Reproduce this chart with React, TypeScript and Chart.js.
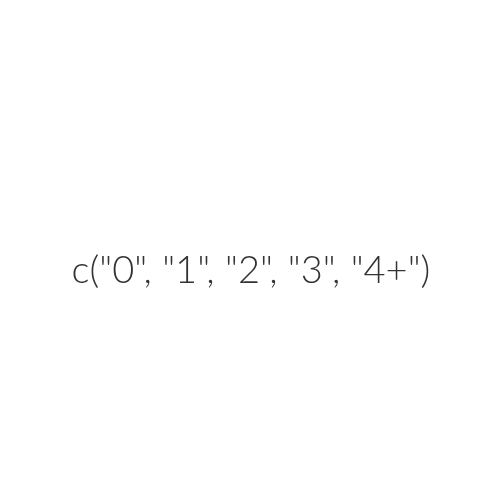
import React, { useEffect, useRef } from "react";
import { Chart, registerables } from "chart.js";

Chart.register(...registerables);

const categories = ["0", "1", "2", "3", "4+"];
const labelText = "c(" + categories.map((c) => '"' + c + '"').join(", ") + ")";

const textPlugin = {
  id: "centerText",
  afterDraw(chart: any) {
    const ctx = chart.ctx;
    ctx.save();
    ctx.font = "300 38px Lato";
    ctx.fillStyle = "#333333";
    ctx.textAlign = "center";
    ctx.textBaseline = "alphabetic";
    ctx.fillText(labelText, 251, 283);
    ctx.restore();
  },
};

export default function App() {
  const ref = useRef<HTMLCanvasElement>(null);
  useEffect(() => {
    document.body.style.margin = "0";
    const chart = new Chart(ref.current!, {
      type: "scatter",
      data: { datasets: [{ data: [] }] },
      options: {
        animation: false,
        responsive: false,
        maintainAspectRatio: false,
        plugins: { legend: { display: false }, tooltip: { enabled: false } },
        scales: { x: { display: false }, y: { display: false } },
      },
      plugins: [textPlugin],
    });
    return () => chart.destroy();
  }, []);
  return (
    <div style={{ width: 500, height: 500, background: "#ffffff" }}>
      <canvas ref={ref} width={500} height={500} style={{ display: "block" }} />
    </div>
  );
}
